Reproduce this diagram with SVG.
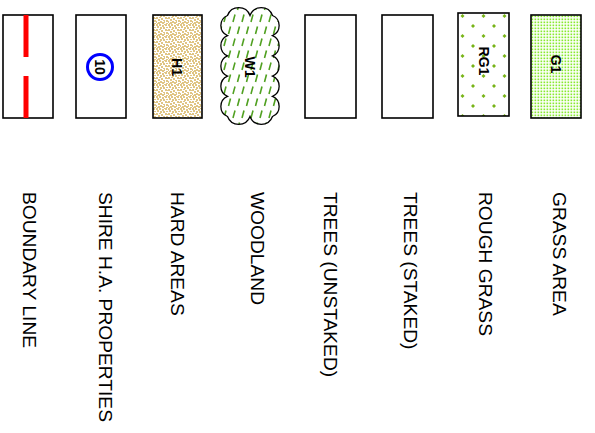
<svg xmlns="http://www.w3.org/2000/svg" width="595" height="433" viewBox="0 0 595 433">
<style>
.box{fill:none;stroke:#000;stroke-width:1.6}
.lbl{font-family:"Liberation Sans",Arial,sans-serif;font-size:19.2px;fill:#000}
.code{font-family:"Liberation Sans",Arial,sans-serif;font-size:14px;font-weight:bold;fill:#000;text-anchor:middle}
</style>
<defs>
<pattern id="hard" width="12" height="12" patternUnits="userSpaceOnUse">
<rect width="12" height="12" fill="#fff"/>
<g fill="#e0c584">
<rect x="0" y="0" width="2" height="2"/><rect x="3" y="0" width="2" height="2"/><rect x="6" y="1" width="2" height="2"/><rect x="9" y="0" width="2" height="2"/>
<rect x="1" y="2" width="2" height="2"/><rect x="4" y="3" width="2" height="2"/><rect x="7" y="3" width="2" height="2"/><rect x="10" y="3" width="2" height="1"/>
<rect x="0" y="5" width="2" height="2"/><rect x="3" y="5" width="2" height="1"/><rect x="5" y="6" width="2" height="2"/><rect x="9" y="5" width="2" height="2"/>
<rect x="2" y="7" width="2" height="2"/><rect x="4" y="9" width="2" height="2"/><rect x="7" y="8" width="2" height="1"/><rect x="10" y="8" width="2" height="2"/>
<rect x="0" y="9" width="1" height="2"/><rect x="2" y="10" width="2" height="2"/><rect x="6" y="10" width="2" height="2"/><rect x="8" y="9" width="1" height="2"/><rect x="10" y="11" width="2" height="1"/>
<rect x="11" y="6" width="1" height="1"/><rect x="5" y="4" width="1" height="1"/><rect x="8" y="0" width="1" height="1"/><rect x="1" y="11" width="1" height="1"/>
</g>
</pattern>
<pattern id="wood" width="18" height="24" patternUnits="userSpaceOnUse">
<g stroke="#4fa020" stroke-width="1.6" fill="none">
<line x1="3.5" y1="10" x2="5.5" y2="2.5"/><line x1="12.5" y1="10" x2="14.5" y2="2.5"/>
<line x1="8" y1="22" x2="10" y2="14.5"/><line x1="-1" y1="22" x2="1" y2="14.5"/><line x1="17" y1="22" x2="19" y2="14.5"/>
</g>
</pattern>
<pattern id="rough" x="460" y="14" width="21" height="20" patternUnits="userSpaceOnUse">
<g fill="#78b418">
<path d="M2.5,0 L4.5,2 L2.5,4 L0.5,2 Z"/>
<path d="M13,10 L15,12 L13,14 L11,12 Z"/>
</g>
</pattern>
<pattern id="grass" x="531" y="15" width="3" height="3" patternUnits="userSpaceOnUse">
<rect x="0.5" y="0.5" width="1.7" height="1.7" fill="#88ea30"/>
</pattern>
</defs>

<g id="boundary">
<rect class="box" x="3" y="15" width="50" height="103"/>
<line x1="26" y1="15" x2="26" y2="57" stroke="#ff0000" stroke-width="5"/>
<line x1="26" y1="76" x2="26" y2="118" stroke="#ff0000" stroke-width="5"/>
</g>

<g id="shire">
<rect class="box" x="76" y="15" width="50" height="103"/>
<circle cx="100" cy="67" r="12.5" fill="none" stroke="#0000ff" stroke-width="3"/>
<text class="code" transform="translate(95,67) rotate(90)">10</text>
</g>

<g id="hard-areas">
<rect x="153" y="15" width="49" height="103" fill="url(#hard)" stroke="#000" stroke-width="1.6"/>
<text class="code" transform="translate(172.2,67) rotate(90)">H1</text>
</g>

<g id="woodland">
<path d="M227.5,15.5 A12,12 0 0 1 250,15.5 A12,12 0 0 1 272.5,15.5 A11,11 0 0 1 272.5,35.7 A11,11 0 0 1 272.5,55.9 A11,11 0 0 1 272.5,76.1 A11,11 0 0 1 272.5,96.3 A11,11 0 0 1 272.5,116.5 A12,12 0 0 1 250,116.5 A12,12 0 0 1 227.5,116.5 A11,11 0 0 1 227.5,96.3 A11,11 0 0 1 227.5,76.1 A11,11 0 0 1 227.5,55.9 A11,11 0 0 1 227.5,35.7 A11,11 0 0 1 227.5,15.5 Z" fill="url(#wood)" stroke="#000" stroke-width="1.3"/>
<text class="code" transform="translate(245.2,67) rotate(90)">W1</text>
</g>

<g id="trees-unstaked">
<rect class="box" x="305" y="15" width="51" height="103"/>
</g>

<g id="trees-staked">
<rect class="box" x="382" y="15" width="51" height="103"/>
</g>

<g id="rough-grass">
<rect x="458" y="13" width="51" height="103" fill="url(#rough)" stroke="#000" stroke-width="1.6"/>
<text class="code" transform="translate(478.6,61) rotate(90)">RG1</text>
</g>

<g id="grass-area">
<rect x="531" y="15" width="50" height="103" fill="url(#grass)" stroke="#000" stroke-width="1.6"/>
<text class="code" transform="translate(551,64) rotate(90)">G1</text>
</g>

<g id="labels">
<text class="lbl" transform="translate(22.5,192) rotate(90)">BOUNDARY LINE</text>
<text class="lbl" transform="translate(98.5,192) rotate(90)">SHIRE H.A. PROPERTIES</text>
<text class="lbl" transform="translate(170.5,192) rotate(90)">HARD AREAS</text>
<text class="lbl" transform="translate(250.5,192) rotate(90)">WOODLAND</text>
<text class="lbl" transform="translate(323.5,192) rotate(90)">TREES (UNSTAKED)</text>
<text class="lbl" transform="translate(403.5,192) rotate(90)">TREES (STAKED)</text>
<text class="lbl" transform="translate(478.5,192) rotate(90)">ROUGH GRASS</text>
<text class="lbl" transform="translate(552.5,192) rotate(90)">GRASS AREA</text>
</g>
</svg>
